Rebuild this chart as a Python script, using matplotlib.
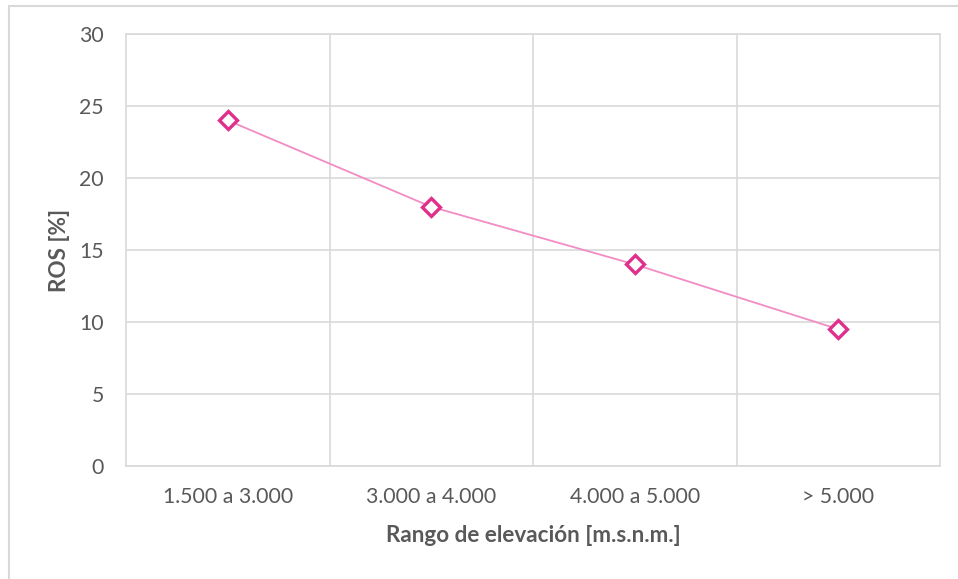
import matplotlib.pyplot as plt
from matplotlib.patches import Rectangle

categorias = ["1.500 a 3.000", "3.000 a 4.000", "4.000 a 5.000", "> 5.000"]
ros = [24, 18, 14, 9.5]
yticks = [0, 5, 10, 15, 20, 25, 30]

plt.rcParams['font.family'] = ['Lato', 'DejaVu Sans']

W, H = 958, 579
fig = plt.figure(figsize=(W / 100, H / 100), dpi=100)
ax = fig.add_axes([126 / W, 1 - 466 / H, (940 - 126) / W, (466 - 34) / H])

# marco gris alrededor del grafico
fig.patches.append(Rectangle((8.5 / W, -0.1), 1.2, 1 - 5.5 / H + 0.1,
                             transform=fig.transFigure, fill=False,
                             edgecolor='#d9d9d9', linewidth=1.5))

x = range(len(categorias))
ax.plot(x, ros, color='#f28cc4', linewidth=1.3, zorder=3)
ax.plot(x, ros, linestyle='none', marker='D', markersize=8.8,
        markerfacecolor='white', markeredgecolor='#e0308c',
        markeredgewidth=2.4, zorder=4)

ax.set_xlim(-0.5, len(categorias) - 0.5)
ax.set_ylim(0, 30)
ax.set_yticks(yticks)
ax.set_xticks(list(x))
ax.set_xticklabels(categorias)

# lineas de division entre categorias
for b in [0.5, 1.5, 2.5]:
    ax.axvline(b, color='#d9d9d9', linewidth=1.2, zorder=1)
ax.yaxis.grid(True, color='#d9d9d9', linewidth=1.2, zorder=1)
ax.set_axisbelow(True)

for s in ax.spines.values():
    s.set_color('#d9d9d9')
    s.set_linewidth(1.2)

ax.tick_params(axis='both', length=0, labelsize=15.3, labelcolor='#595959')
ax.tick_params(axis='y', pad=16)
ax.tick_params(axis='x', pad=15)

fig.text(533 / W, 1 - 536 / H, 'Rango de elevación [m.s.n.m.]', fontsize=16.2,
         fontweight='bold', color='#595959', ha='center', va='center')
fig.text(60 / W, 1 - 250 / H, 'ROS [%]', fontsize=16.2, fontweight='bold',
         color='#595959', ha='center', va='center', rotation=90)

fig.savefig('out.png', dpi=100)
